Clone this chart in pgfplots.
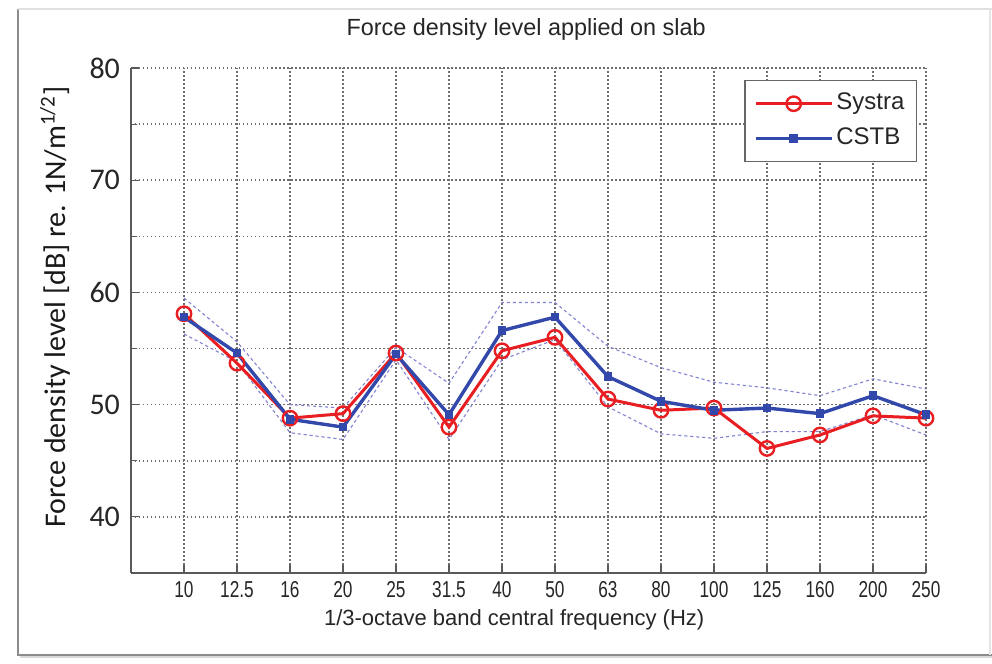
\documentclass[border=0pt]{standalone}
\usepackage{pgfplots}
\pgfplotsset{compat=1.18}
\usepackage{fontspec}
\setmainfont{Liberation Sans}
\newfontfamily\calibri{Carlito}
\newfontfamily\narrowsans[FakeStretch=0.75]{Liberation Sans}
\definecolor{sred}{RGB}{232,30,35}
\definecolor{sblue}{RGB}{50,72,170}
\definecolor{bnd}{RGB}{130,132,210}
\definecolor{gridc}{RGB}{110,110,110}

\pgfplotstableread{
i systra cstb upper lower
0  58.1 57.8 59.5 56.3
1  53.7 54.6 55.6 53.8
2  48.8 48.7 50.0 47.5
3  49.2 48.0 49.7 46.9
4  54.6 54.5 55.1 54.0
5  48.0 49.1 51.9 46.9
6  54.8 56.6 59.1 54.0
7  56.0 57.8 59.1 55.8
8  50.5 52.5 55.2 49.8
9  49.5 50.3 53.3 47.4
10 49.7 49.5 52.0 47.0
11 46.1 49.7 51.5 47.6
12 47.3 49.2 50.8 47.6
13 49.0 50.8 52.3 49.1
14 48.8 49.1 51.4 47.3
}\data

\begin{document}
\begin{tikzpicture}
\useasboundingbox (-65.5pt,-45.5pt) rectangle (430.5pt,286.5pt);
\fill[white] (-65.5pt,-45.5pt) rectangle (430.5pt,286.5pt);
% panel frame with shadow
\draw[black!15, line width=1.5pt] (-55.5pt,-42pt) -- (432pt,-42pt);
\draw[black!45, line width=1pt] (-56.5pt,282pt) |- (432pt,-41pt);
\draw[black!12, line width=0.8pt] (-56.5pt,282pt) -- (432pt,282pt);
\draw[black!10, line width=0.8pt] (429.5pt,282pt) -- (429.5pt,-41pt);
\begin{axis}[
  scale only axis, width=397.5pt, height=252.5pt,
  xmin=-1, xmax=14, ymin=35, ymax=80,
  xtick={0,...,14},
  xticklabels={10,12.5,16,20,25,31.5,40,50,63,80,100,125,160,200,250},
  ytick={40,50,60,70,80}, minor ytick={35,45,55,65,75},
  grid=both,
  major grid style={gridc, line width=0.75pt, dash pattern=on 0.75pt off 1.25pt},
  minor grid style={gridc, line width=0.75pt, dash pattern=on 0.75pt off 1.25pt},
  axis x line*=bottom, axis y line*=left,
  axis line style={line width=0.8pt, black!65, -},
  tick style={black!65, line width=0.6pt},
  tick align=inside,
  major tick length=4pt, minor tick length=3pt,
  /pgf/number format/assume math mode=true,
  xticklabel style={font=\narrowsans\fontsize{11.5}{13}\selectfont, text=black!85, yshift=-0.5pt},
  yticklabel style={font=\calibri\fontsize{15}{18}\selectfont, text=black!85, xshift=-2pt},
  title={Force density level applied on slab},
  title style={font=\fontsize{11.7}{14}\selectfont, text=black!85, at={(axis description cs:0.497,1.053)}, anchor=center},
  xlabel={1/3-octave band central frequency (Hz)},
  xlabel style={font=\fontsize{11}{13}\selectfont, text=black!85, at={(axis description cs:0.482,-0.093)}, anchor=center},
  ylabel={Force density level [dB] re. 1N/m\textsuperscript{1/2}]},
  ylabel style={font=\calibri\fontsize{15}{18}\selectfont, text=black!90, at={(axis description cs:-0.0956,0.527)}, anchor=center, rotate=0},
  legend style={at={(axis description cs:0.9887,0.976)}, anchor=north east,
    draw=black!60, line width=0.6pt, fill=white, inner sep=4.5pt,
    font=\fontsize{12}{14}\selectfont, text=black!85,
    nodes={inner sep=1.5pt, text height=8.5pt, text depth=2.5pt},
    row sep=3.5pt},
  legend cell align=left,
  legend image code/.code={\draw[mark repeat=2,mark phase=2] plot coordinates {(0pt,0pt) (19pt,0pt) (38pt,0pt)};},
]
\addplot[bnd, line width=0.55pt, dash pattern=on 1.6pt off 1.4pt, forget plot] table[x=i,y=upper] {\data};
\addplot[bnd, line width=0.55pt, dash pattern=on 1.6pt off 1.4pt, forget plot] table[x=i,y=lower] {\data};
\addplot[sred, line width=1.5pt, mark=o, mark size=3.6pt, mark options={line width=1.2pt}] table[x=i,y=systra] {\data};
\addlegendentry{Systra}
\addplot[sblue, line width=1.7pt, mark=square*, mark size=1.3pt] table[x=i,y=cstb] {\data};
\addlegendentry{CSTB}
\end{axis}
\end{tikzpicture}
\end{document}
